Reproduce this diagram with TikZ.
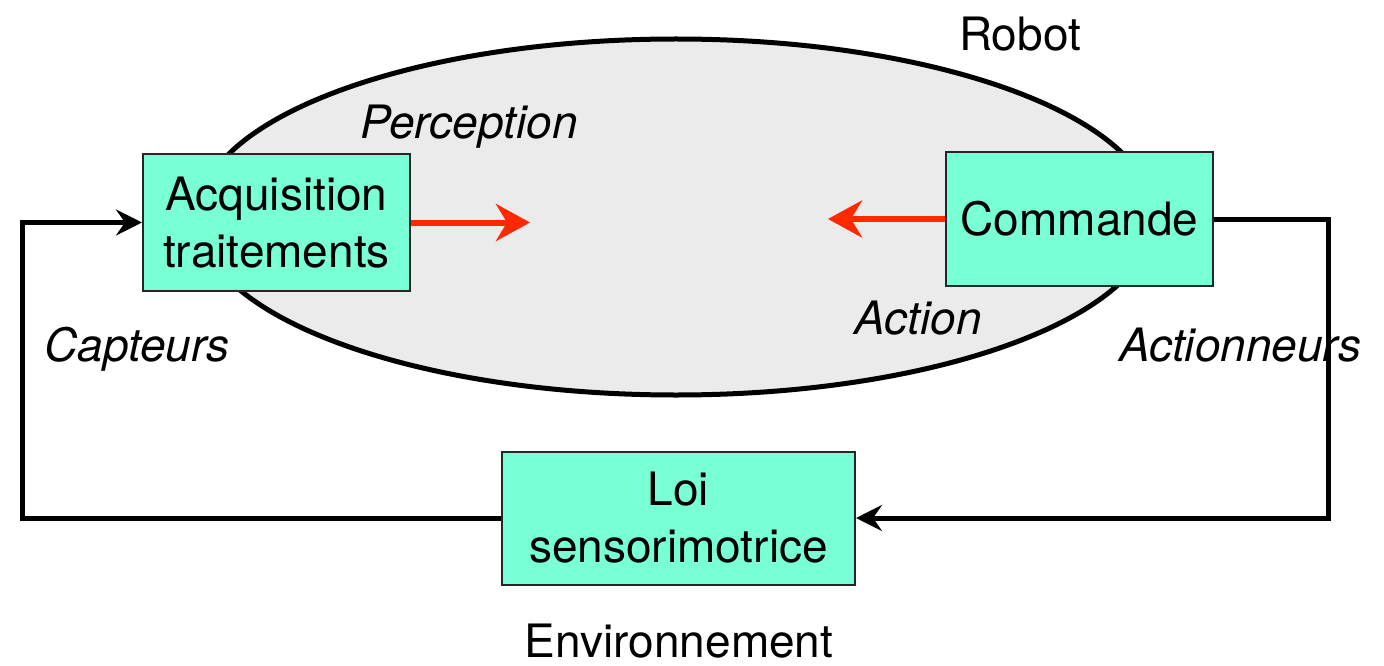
\documentclass[tikz,border=0pt]{standalone}
\usepackage{fontspec}
\setmainfont{TeX Gyre Heros}
\usetikzlibrary{arrows.meta,shapes.geometric}
\definecolor{boxfill}{RGB}{120,255,214}
\definecolor{robotfill}{RGB}{235,235,235}
\definecolor{redarrow}{RGB}{255,40,0}
\begin{document}
\begin{tikzpicture}[x=1pt,y=-1pt,
  every node/.style={font=\fontsize{46}{57}\selectfont},
  blockbox/.style={draw=black!85, line width=2pt, fill=boxfill, align=center, inner sep=0pt},
  loopline/.style={draw=black, line width=5pt, -{Stealth[length=26pt,width=26pt,inset=9pt]}},
  redline/.style={draw=redarrow, line width=6pt, -{Stealth[length=34pt,width=37pt,inset=11pt]}},
  lbl/.style={anchor=base, inner sep=0pt},
  ilbl/.style={anchor=base, inner sep=0pt, font=\fontsize{46}{57}\selectfont\itshape}]
\useasboundingbox (0,0) rectangle (1384,666);
\node[ellipse, draw=black, line width=5pt, fill=robotfill, minimum width=956pt, minimum height=356pt, inner sep=0pt] (robot) at (676,217) {};
\node[blockbox, minimum width=267pt, minimum height=137pt] (acq) at (276.5,222.5) {Acquisition\\traitements};
\node[blockbox, minimum width=267pt, minimum height=134pt] (cmd) at (1079.5,219) {Commande};
\node[blockbox, minimum width=353pt, minimum height=133pt] (loi) at (678.5,518) {Loi\\sensorimotrice};
\coordinate (cL) at (22,518);
\coordinate (cR) at (1328,518);
\coordinate (pTip) at (530,222.5);
\coordinate (aTip) at (828,219);
\draw[loopline] (loi.west) -- (cL) |- (acq.west);
\draw[loopline] (cmd.east) -| (cR) -- (loi.east);
\draw[redline] (acq.east) -- (pTip);
\draw[redline] (cmd.west) -- (aTip);
\node[lbl] (robotlbl) at (1020,51) {Robot};
\node[lbl] (envlbl) at (679,657) {Environnement};
\node[ilbl] (perc) at (469,139) {Perception};
\node[ilbl] (act) at (918,334) {Action};
\node[ilbl] (capt) at (137,361) {Capteurs};
\node[ilbl] (actn) at (1240,361) {Actionneurs};
\end{tikzpicture}
\end{document}
